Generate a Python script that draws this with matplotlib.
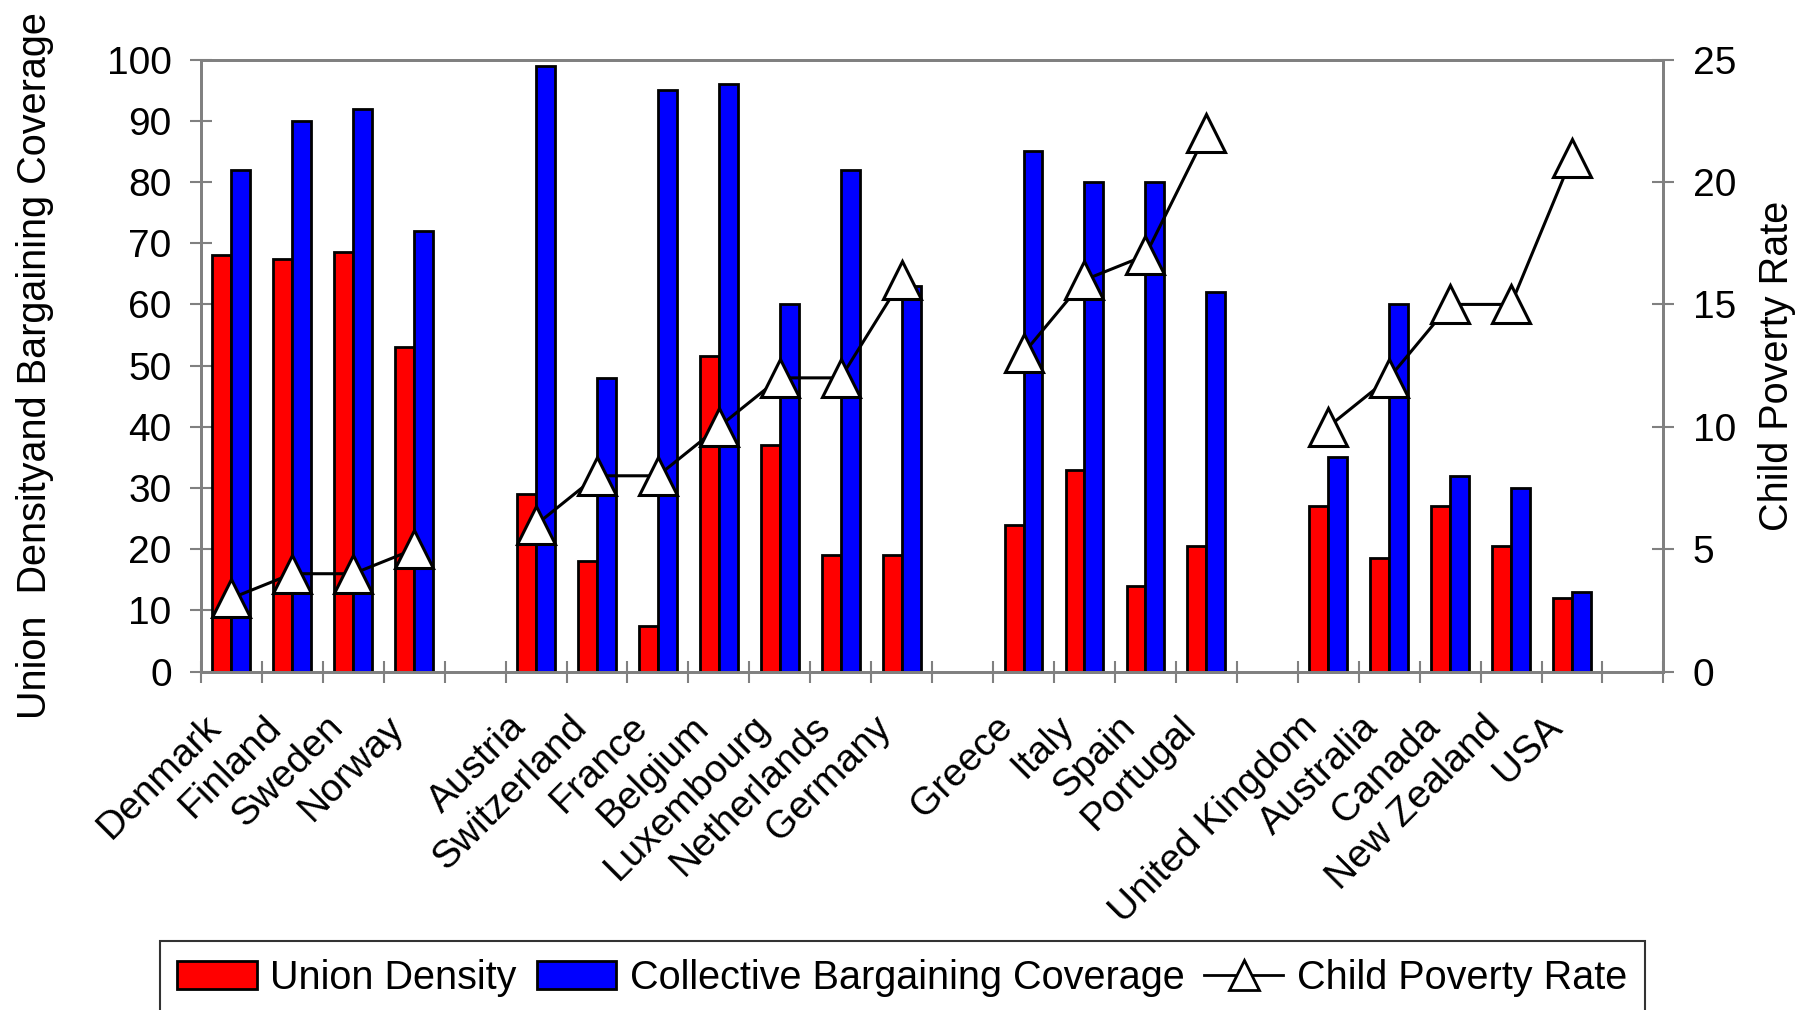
import numpy as np
import matplotlib.pyplot as plt
import matplotlib.transforms as mtransforms
from matplotlib.lines import Line2D
from matplotlib.patches import Patch

plt.rcParams['font.family'] = ['Liberation Sans', 'DejaVu Sans']

# Pays (les chaînes vides séparent les groupes)
pays = ["Denmark", "Finland", "Sweden", "Norway", "",
        "Austria", "Switzerland", "France", "Belgium", "Luxembourg", "Netherlands", "Germany", "",
        "Greece", "Italy", "Spain", "Portugal", "",
        "United Kingdom", "Australia", "Canada", "New Zealand", "USA", ""]

nan = np.nan
union_density = [68, 67.5, 68.5, 53, nan,
                 29, 18, 7.5, 51.5, 37, 19, 19, nan,
                 24, 33, 14, 20.5, nan,
                 27, 18.5, 27, 20.5, 12, nan]
bargaining_coverage = [82, 90, 92, 72, nan,
                       99, 48, 95, 96, 60, 82, 63, nan,
                       85, 80, 80, 62, nan,
                       35, 60, 32, 30, 13, nan]
child_poverty = [3, 4, 4, 5, nan,
                 6, 8, 8, 10, 12, 12, 16, nan,
                 13, 16, 17, 22, nan,
                 10, 12, 15, 15, 21, nan]

x = np.arange(len(pays))
w = 0.31
gris = "#808080"

fig = plt.figure(figsize=(18.1, 10.1), dpi=100)
ax = fig.add_axes([0.111, 0.335, 0.808, 0.606])
ax2 = ax.twinx()

ax.bar(x - w / 2, union_density, w, color="#FF0000", edgecolor="black", linewidth=2, zorder=2)
ax.bar(x + w / 2, bargaining_coverage, w, color="#0000FF", edgecolor="black", linewidth=2, zorder=2)
ax2.plot(x, child_poverty, color="black", linewidth=2.2, marker="^", markersize=27,
         markerfacecolor="white", markeredgecolor="black", markeredgewidth=2.2)

ax.set_xlim(-0.5, len(pays) - 0.5)
ax.set_ylim(0, 100)
ax2.set_ylim(0, 25)
ax.set_yticks(np.arange(0, 101, 10))
ax2.set_yticks(np.arange(0, 26, 5))

# Étiquettes au centre, graduations aux bornes
ax.set_xticks(x)
ax.set_xticklabels(pays, rotation=45, ha="right", va="center", rotation_mode="anchor", fontsize=28)
ax.tick_params(axis="x", which="major", length=0, pad=36)
ax.set_xticks(np.arange(-0.5, len(pays), 1), minor=True)
ax.tick_params(axis="x", which="minor", direction="inout", length=16, width=1.5, color=gris)

# petit décalage des noms vers la gauche
decalage = mtransforms.ScaledTranslation(-0.16, 0, fig.dpi_scale_trans)
for lbl in ax.get_xticklabels():
    lbl.set_transform(lbl.get_transform() + decalage)

ax.tick_params(axis="y", direction="inout", length=16, width=1.5, color=gris, labelsize=28, pad=13)
ax2.tick_params(axis="y", direction="inout", length=16, width=1.5, color=gris, labelsize=28, pad=13)

for a in (ax, ax2):
    for s in a.spines.values():
        s.set_color(gris)
        s.set_linewidth(2)

ax.set_ylabel("Union  Densityand Bargaining Coverage", fontsize=28.5, labelpad=38)
ax2.set_ylabel("Child Poverty Rate", fontsize=28.5, labelpad=16)

handles = [Patch(facecolor="#FF0000", edgecolor="black", linewidth=2),
           Patch(facecolor="#0000FF", edgecolor="black", linewidth=2),
           Line2D([], [], color="black", linewidth=2, marker="^", markersize=22,
                  markerfacecolor="white", markeredgecolor="black", markeredgewidth=2)]
labels = ["Union Density", "Collective Bargaining Coverage", "Child Poverty Rate"]
leg = fig.legend(handles, labels, loc="upper center", bbox_to_anchor=(0.4986, 0.068), ncol=3,
                 fontsize=28.5, frameon=True, fancybox=False, borderpad=0.45, borderaxespad=0,
                 handlelength=2.0, handletextpad=0.35, columnspacing=0.5)
leg.get_frame().set_edgecolor("black")
leg.get_frame().set_linewidth(1.5)

fig.savefig("out.png", dpi=100)
